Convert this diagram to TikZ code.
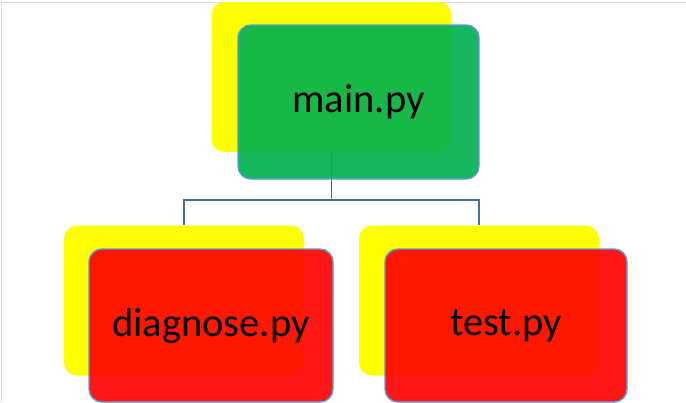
\documentclass[tikz,border=0pt]{standalone}
\usepackage{fontspec}
\setmainfont{Carlito}
\definecolor{sheetyellow}{RGB}{255,255,0}
\definecolor{sheetgreen}{RGB}{0,176,80}
\definecolor{sheetred}{RGB}{255,0,0}
\definecolor{edgeblue}{RGB}{91,155,213}
\definecolor{linkblue}{RGB}{65,113,156}
\begin{document}
\begin{tikzpicture}[x=1pt,y=-1pt,
  backbox/.style={fill=sheetyellow,rounded corners=13pt,minimum width=240pt,minimum height=150pt,inner sep=0pt},
  filebox/.style={draw=edgeblue,line width=1.4pt,fill opacity=0.91,text opacity=1,rounded corners=13pt,minimum width=242pt,minimum height=153pt,inner sep=0pt,font=\fontsize{40.5}{48}\selectfont},
  conn/.style={draw=linkblue,line width=1.4pt}]
  \useasboundingbox (0,0) rectangle (686,402);
  % frame of the sheet
  \draw[gray!30,line width=1pt] (1,402) -- (1,2) -- (686,2);
  % back (yellow) shapes
  \node[backbox] (mainback) at (331.5,77) {};
  \node[backbox] (diagback) at (184,300.5) {};
  \node[backbox] (testback) at (479,300.5) {};
  % connectors
  \coordinate (split) at (331.5,200);
  \draw[conn] (mainback.south) -- (split) -| (diagback.north);
  \draw[conn] (split) -| (testback.north);
  % front shapes
  \node[filebox,fill=sheetgreen,minimum width=241pt,minimum height=154pt] (main) at (358.5,102) {main.py};
  \node[filebox,fill=sheetred,minimum width=244pt] (diag) at (211,325.5) {diagnose.py};
  \node[filebox,fill=sheetred] (test) at (506,325.5) {test.py};
\end{tikzpicture}
\end{document}
